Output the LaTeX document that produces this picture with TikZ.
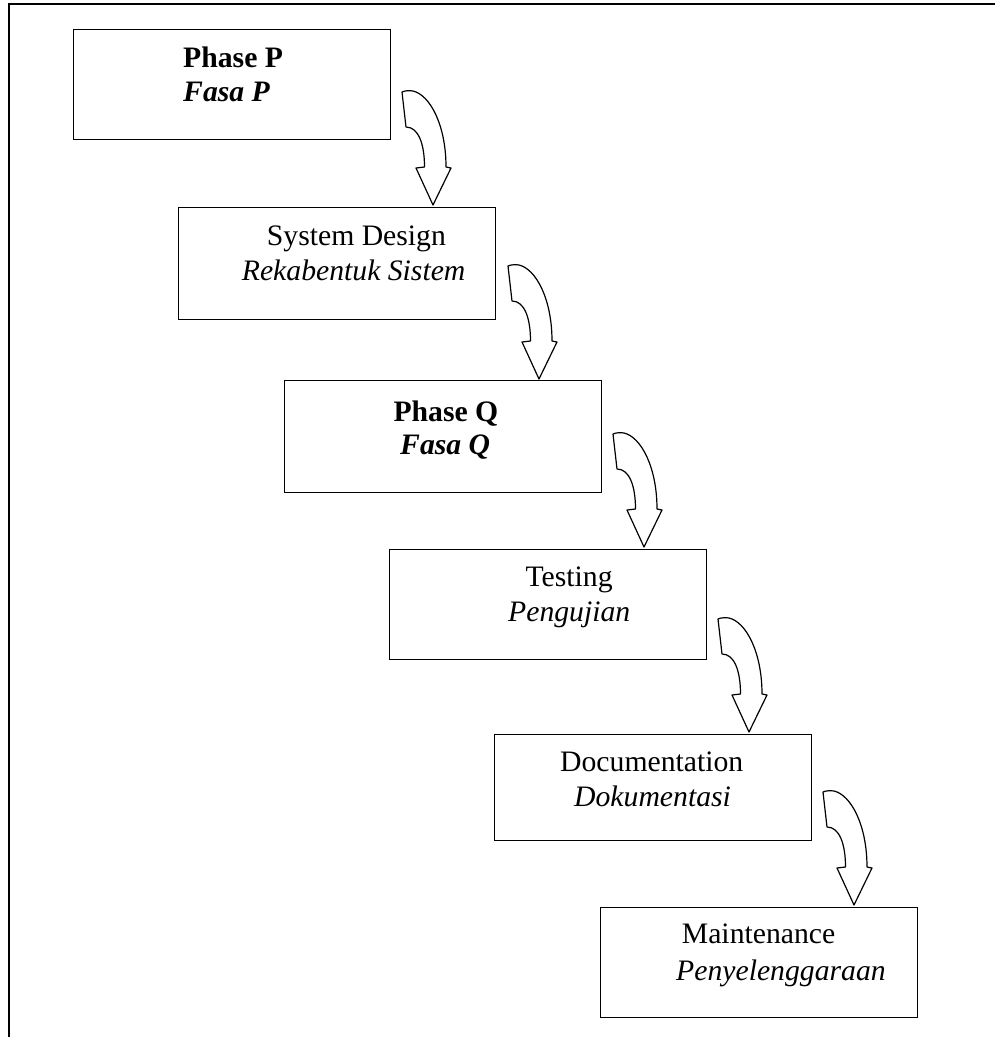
\documentclass[tikz,border=0pt]{standalone}
\usepackage{fontspec}
\setmainfont{Liberation Serif}
\usetikzlibrary{calc}
\begin{document}
\begin{tikzpicture}[x=1pt,y=-1pt,
  box/.style={draw,line width=1.3pt,rectangle,anchor=north west,minimum width=317pt,minimum height=111pt,inner sep=0pt},
  txt/.style={anchor=base west,inner sep=0pt,font=\fontsize{29.7}{36}\selectfont},
  frame/.style={line width=1.4pt},
  blockarrow/.style={draw,line width=1.2pt,line join=round,fill=white},
  pics/curvearrow/.style={code={
    \path[blockarrow] (0,0) -- (-17,-37) -- (-8.5,-38)
      .. controls (-8.5,-62) and (-15,-78) .. (-27,-78)
      -- (-31,-113)
      .. controls (-28,-114.5) and (-23,-114.5) .. (-20,-114)
      .. controls (-3,-110) and (13,-80) .. (13,-38)
      -- (18,-37) -- cycle;
  }}]
\useasboundingbox (0,0) rectangle (995,1037);
\coordinate (ftop) at (9,4);
\coordinate (fright) at (995,4);
\coordinate (fbot) at (9,1037);
\draw[frame] (fbot) -- (ftop) -- (fright);

\node[box,minimum height=110pt] (b1) at (73,29) {};
\node[box,minimum height=112pt] (b2) at (178,207) {};
\node[box,minimum height=112pt] (b3) at (284,380) {};
\node[box,minimum height=110pt] (b4) at (389,549) {};
\node[box,minimum height=106pt] (b5) at (494,734) {};
\node[box,minimum height=110pt] (b6) at (600,907) {};

\node[txt] (t1a) at ($(b1.north west)+(110,38.5)$) {\textbf{Phase P}};
\node[txt] (t1b) at ($(b1.north west)+(110,72.5)$) {\textbf{\textit{Fasa P}}};
\node[txt] (t2a) at ($(b2.north west)+(88.7,38)$) {System Design};
\node[txt] (t2b) at ($(b2.north west)+(63.7,73.7)$) {\textit{Rekabentuk Sistem}};
\node[txt] (t3a) at ($(b3.north west)+(109.3,41.7)$) {\textbf{Phase Q}};
\node[txt] (t3b) at ($(b3.north west)+(116,74)$) {\textbf{\textit{Fasa Q}}};
\node[txt] (t4a) at ($(b4.north west)+(136.4,37.7)$) {Testing};
\node[txt] (t4b) at ($(b4.north west)+(119,72.7)$) {\textit{Pengujian}};
\node[txt] (t5a) at ($(b5.north west)+(66,37.7)$) {Documentation};
\node[txt] (t5b) at ($(b5.north west)+(80,72)$) {\textit{Dokumentasi}};
\node[txt] (t6a) at ($(b6.north west)+(81.7,36.3)$) {Maintenance};
\node[txt] (t6b) at ($(b6.north west)+(76,73)$) {\textit{Penyelenggaraan}};

\pic at ($(b2.north west)+(255,-2)$) {curvearrow};
\pic at ($(b3.north west)+(255,-1)$) {curvearrow};
\pic at ($(b4.north west)+(255,-2)$) {curvearrow};
\pic at ($(b5.north west)+(255,-2)$) {curvearrow};
\pic at ($(b6.north west)+(254,-2)$) {curvearrow};
\end{tikzpicture}
\end{document}
